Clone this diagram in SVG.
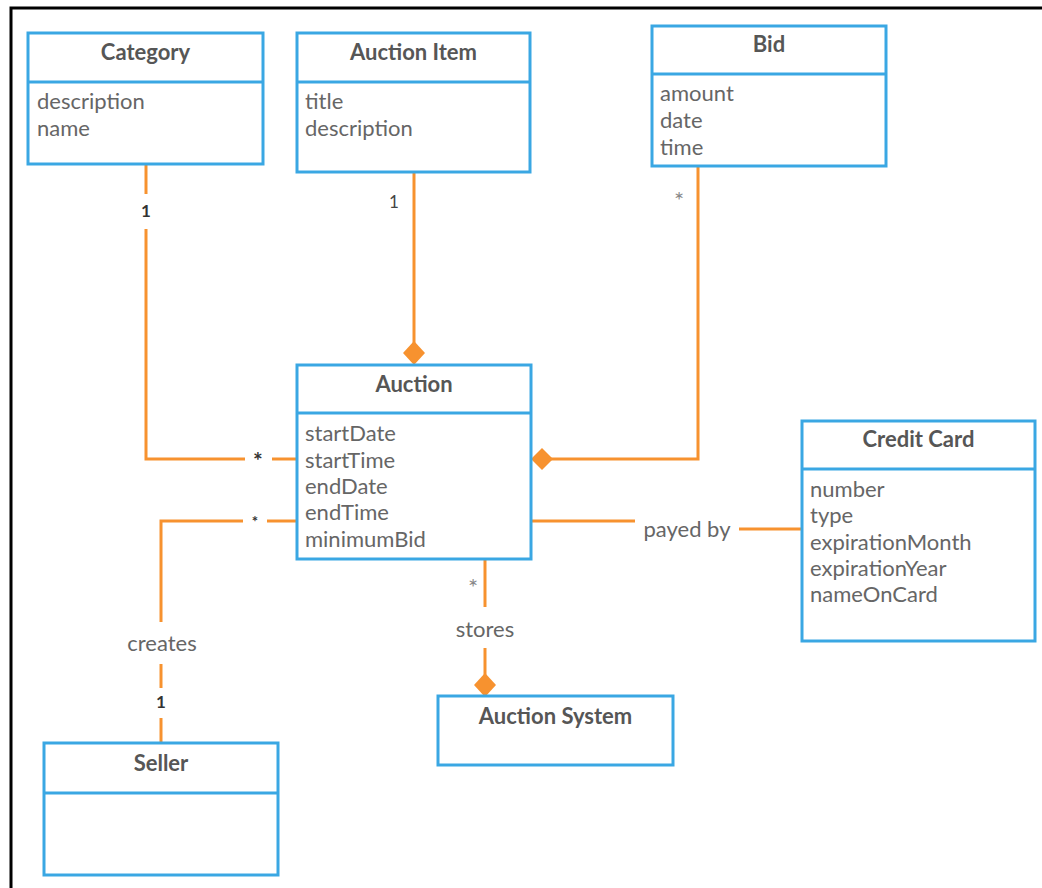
<svg xmlns="http://www.w3.org/2000/svg" width="1042" height="888" viewBox="0 0 1042 888">
  <defs>
    <style>
      .box { fill: #ffffff; stroke: #3aa7e3; stroke-width: 3; }
      .div { stroke: #3aa7e3; stroke-width: 3; }
      .title { font-family: Lato, "Liberation Sans", sans-serif; font-size: 22px; font-weight: bold; fill: #565656; text-anchor: middle; }
      .attr { font-family: Lato, "Liberation Sans", sans-serif; font-size: 22px; fill: #666666; }
      .lbl { font-family: Lato, "Liberation Sans", sans-serif; font-size: 22px; fill: #666666; text-anchor: middle; }
      .mult { font-family: Lato, "Liberation Sans", sans-serif; font-size: 17px; font-weight: bold; fill: #333333; text-anchor: middle; }
      .star { font-family: Lato, "Liberation Sans", sans-serif; font-size: 24px; fill: #888888; text-anchor: middle; }
      .conn { fill: none; stroke: #f7922f; stroke-width: 3; }
      .dia { fill: #f7922f; }
    </style>
  </defs>
  <rect width="1042" height="888" fill="#ffffff"/>
  <!-- outer frame (top and left edges) -->
  <path d="M11 888 V8 H1042" fill="none" stroke="#000000" stroke-width="3"/>

  <!-- connectors -->
  <g id="connectors">
    <!-- Category to Auction -->
    <path class="conn" d="M146 164 V194"/>
    <path class="conn" d="M146 229 V459 H245"/>
    <path class="conn" d="M272 459 H297"/>
    <text class="mult" x="146" y="217">1</text>
    <text class="mult" x="258" y="469" style="font-size:23px">*</text>

    <!-- Auction Item to Auction (composition) -->
    <path class="conn" d="M414 172 V345"/>
    <polygon class="dia" points="414,341 425,353 414,365 403,353"/>
    <text class="mult" x="394" y="208" style="font-weight:normal;fill:#444444">1</text>

    <!-- Bid to Auction (composition) -->
    <path class="conn" d="M698 166 V459 H549"/>
    <polygon class="dia" points="531,459 542,448 553,459 542,470"/>
    <text class="star" x="679" y="209">*</text>

    <!-- Auction to Seller -->
    <path class="conn" d="M297 521 H267"/>
    <path class="conn" d="M243 521 H161 V622"/>
    <path class="conn" d="M161 664 V688"/>
    <path class="conn" d="M161 718 V743"/>
    <text class="mult" x="255" y="527" style="font-size:15px">*</text>
    <text class="lbl" x="162" y="651">creates</text>
    <text class="mult" x="161" y="708">1</text>

    <!-- Auction to Credit Card -->
    <path class="conn" d="M531 521 H635"/>
    <path class="conn" d="M739 529 H802"/>
    <text class="lbl" x="687" y="537">payed by</text>

    <!-- Auction to Auction System (composition) -->
    <path class="conn" d="M485 559 V607"/>
    <path class="conn" d="M485 648 V676"/>
    <polygon class="dia" points="485,673 496,685 485,697 474,685"/>
    <text class="star" x="473" y="596">*</text>
    <text class="lbl" x="485" y="637">stores</text>
  </g>

  <!-- Category -->
  <g id="category">
    <rect class="box" x="28" y="33" width="235" height="131"/>
    <line class="div" x1="28" y1="82" x2="263" y2="82"/>
    <text class="title" x="145.5" y="60">Category</text>
    <text class="attr" x="37" y="109">description</text>
    <text class="attr" x="37" y="136">name</text>
  </g>

  <!-- Auction Item -->
  <g id="auction-item">
    <rect class="box" x="297" y="33" width="233" height="139"/>
    <line class="div" x1="297" y1="82" x2="530" y2="82"/>
    <text class="title" x="413.5" y="60">Auction Item</text>
    <text class="attr" x="305" y="109">title</text>
    <text class="attr" x="305" y="136">description</text>
  </g>

  <!-- Bid -->
  <g id="bid">
    <rect class="box" x="652" y="26" width="234" height="140"/>
    <line class="div" x1="652" y1="74" x2="886" y2="74"/>
    <text class="title" x="769" y="52">Bid</text>
    <text class="attr" x="660" y="101">amount</text>
    <text class="attr" x="660" y="128">date</text>
    <text class="attr" x="660" y="155">time</text>
  </g>

  <!-- Auction -->
  <g id="auction">
    <rect class="box" x="297" y="365" width="234" height="194"/>
    <line class="div" x1="297" y1="413" x2="531" y2="413"/>
    <text class="title" x="414" y="392">Auction</text>
    <text class="attr" x="305" y="441">startDate</text>
    <text class="attr" x="305" y="468">startTime</text>
    <text class="attr" x="305" y="494">endDate</text>
    <text class="attr" x="305" y="520">endTime</text>
    <text class="attr" x="305" y="547">minimumBid</text>
  </g>

  <!-- Credit Card -->
  <g id="credit-card">
    <rect class="box" x="802" y="421" width="233" height="220"/>
    <line class="div" x1="802" y1="469" x2="1035" y2="469"/>
    <text class="title" x="918.5" y="447">Credit Card</text>
    <text class="attr" x="810" y="497">number</text>
    <text class="attr" x="810" y="523">type</text>
    <text class="attr" x="810" y="550">expirationMonth</text>
    <text class="attr" x="810" y="576">expirationYear</text>
    <text class="attr" x="810" y="602">nameOnCard</text>
  </g>

  <!-- Seller -->
  <g id="seller">
    <rect class="box" x="44" y="743" width="234" height="132"/>
    <line class="div" x1="44" y1="793" x2="278" y2="793"/>
    <text class="title" x="161" y="771">Seller</text>
  </g>

  <!-- Auction System -->
  <g id="auction-system">
    <rect class="box" x="438" y="696" width="235" height="69"/>
    <text class="title" x="555.5" y="724">Auction System</text>
  </g>
</svg>
